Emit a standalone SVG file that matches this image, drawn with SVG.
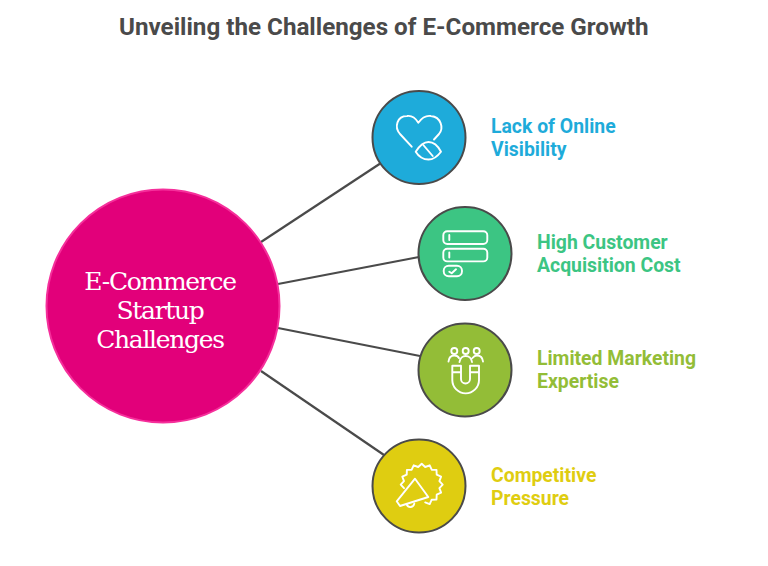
<svg xmlns="http://www.w3.org/2000/svg" width="768" height="566" viewBox="0 0 768 566">
<style>
.title{font:700 24.2px Roboto,"Liberation Sans",sans-serif;fill:#4a4a4a}
.lab{font:700 19.4px Roboto,"Liberation Sans",sans-serif}
.ctr{font:400 25px "DejaVu Serif","Liberation Serif",serif;fill:#fff;text-anchor:middle;letter-spacing:-1.3px}
.c{stroke:#4a4a4a;stroke-width:2}
.ic{fill:none;stroke:#fff;stroke-width:1.9;stroke-linecap:round;stroke-linejoin:round}
.conn{stroke:#4a4a4a;stroke-width:2.2;fill:none}
</style>
<rect width="768" height="566" fill="#fff"/>
<text id="title" class="title" x="119" y="35">Unveiling the Challenges of E-Commerce Growth</text>
<g id="connectors" class="conn">
<line x1="261" y1="242" x2="381" y2="163"/>
<line x1="278" y1="284" x2="419" y2="257"/>
<line x1="278" y1="328" x2="420" y2="356"/>
<line x1="261" y1="371" x2="384" y2="455"/>
</g>
<g id="center">
<circle cx="163" cy="306" r="116.5" fill="#e2007a" stroke="#f52f9b" stroke-width="2"/>
<text class="ctr" x="160" y="290">E-Commerce</text>
<text class="ctr" x="160" y="319">Startup</text>
<text class="ctr" x="160" y="348">Challenges</text>
</g>
<g id="node1">
<circle class="c" cx="419" cy="137.5" r="46.500" fill="#1eabda"/>
<path class="ic" d="M411.700 146.700L400 134C394 127 397 116 407 116C413 115 416 119 418.300 122.700C421 119 425 115 431 116C441 117 444 128 439 134L434 139.500"/>
<path class="ic" d="M415.700 151.700C420 145 425 142 428.500 142C433 142 438 146 441 151.700C437 157 432 159.500 428.500 159.500C423 159.500 419 157 415.700 151.700Z"/>
<path class="ic" d="M423.300 145L432.700 156"/>
<text class="lab" fill="#1eabda"><tspan x="491" y="133">Lack of Online</tspan><tspan x="491" y="156">Visibility</tspan></text>
</g>
<g id="node2">
<circle class="c" cx="465" cy="253.500" r="46.500" fill="#3cc583"/>
<rect class="ic" x="443.300" y="231.300" width="44" height="12.700" rx="4"/>
<rect class="ic" x="443.300" y="248.700" width="44" height="12.700" rx="4"/>
<rect class="ic" x="443.700" y="265.700" width="18.300" height="10.600" rx="5"/>
<path class="ic" d="M449.300 235V240M449.300 252.500V257.500M449.300 271.700L451.700 273.300L456 269.300"/>
<text class="lab" fill="#3cc583"><tspan x="537" y="249">High Customer</tspan><tspan x="537" y="272">Acquisition Cost</tspan></text>
</g>
<g id="node3">
<circle class="c" cx="465" cy="370" r="46.500" fill="#93bd37"/>
<circle class="ic" cx="454.300" cy="351" r="3"/>
<circle class="ic" cx="465.700" cy="351" r="3"/>
<circle class="ic" cx="476.700" cy="351" r="3"/>
<path class="ic" d="M448.500 361.500C449 357 452 355.500 454.300 355.500C456 355.500 458 356 459 358M459.500 362C460 358 463 356 465.700 356C468.500 356 471.500 358 472 362M472.500 358C474 356 475 355.500 477 355.500C480 355.500 482.500 357 483 361.500"/>
<path class="ic" d="M452.300 365.700V380A13.350 13.350 0 0 0 479 380V365.700H470V379A4.500 4.500 0 0 1 461 379V365.700ZM452.300 372.300H461M470 372.300H479"/>
<text class="lab" fill="#93bd37"><tspan x="537" y="365">Limited Marketing</tspan><tspan x="537" y="388">Expertise</tspan></text>
</g>
<g id="node4">
<circle class="c" cx="419" cy="486" r="46.500" fill="#dfcd11"/>
<path class="ic" d="M404 488.200L400.700 484.700L404 481.200L402.300 476.700L406.700 474.700L406.900 469.900L411.700 469.700L413.700 465.300L418.200 467L421.700 463.700L425.200 467L429.700 465.300L431.700 469.700L436.500 469.900L436.700 474.700L441.100 476.700L439.400 481.200L442.700 484.700L439.400 488.200L441.100 492.700L436.700 494.700L436.500 499.500L431.700 499.700L429.700 504.100L425.200 502.400"/>
<path class="ic" d="M415 478.700L428.300 497L400 506L396.700 501.300ZM406.700 504.700A4 4 0 0 0 414.300 503.700"/>
<text class="lab" fill="#dfcd11"><tspan x="491" y="482">Competitive</tspan><tspan x="491" y="505">Pressure</tspan></text>
</g>
</svg>
